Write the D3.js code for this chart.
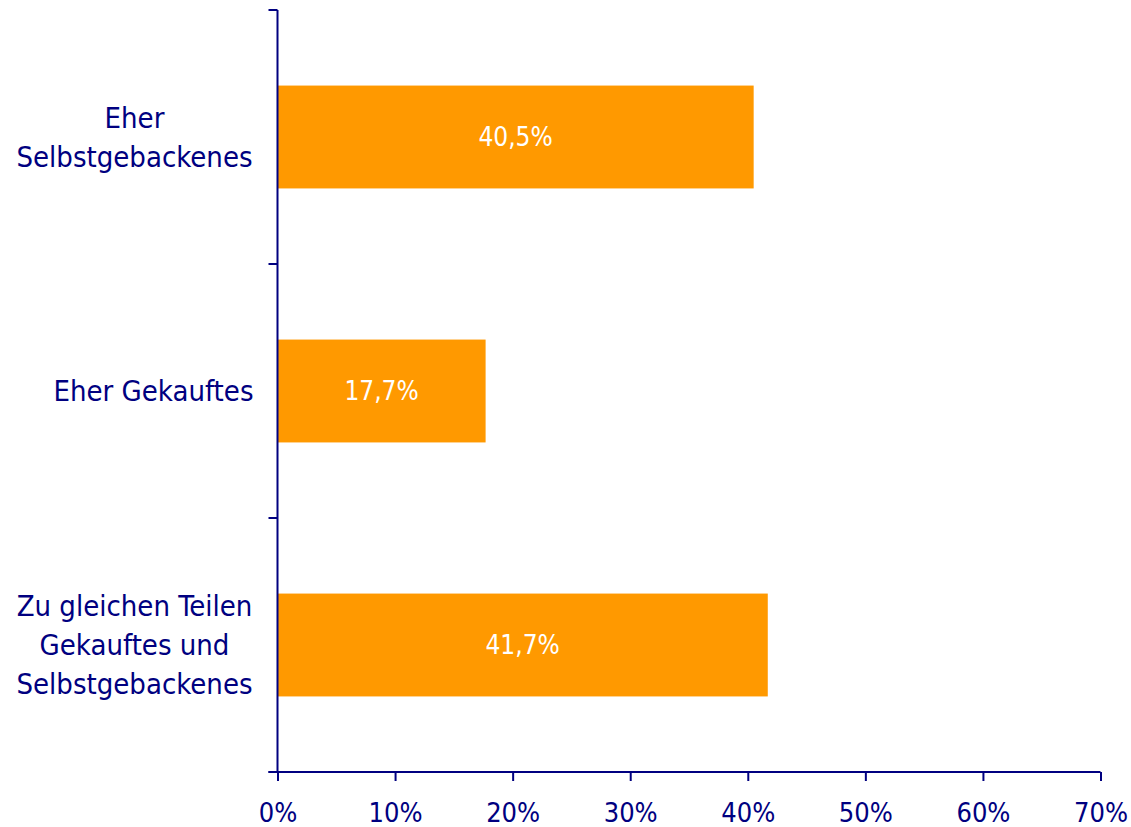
<!DOCTYPE html>
<html>
<head>
<meta charset="utf-8">
<script src="https://cdn.jsdelivr.net/npm/d3@7"></script>
<style>
  html, body { margin: 0; padding: 0; background: #ffffff; }
  svg { display: block; }
  text { font-family: "DejaVu Sans Condensed", "DejaVu Sans", sans-serif; }
</style>
</head>
<body>
<svg id="chart" width="1131" height="827"></svg>
<script>
const categories = [
  ["Eher", "Selbstgebackenes"],
  ["Eher Gekauftes"],
  ["Zu gleichen Teilen", "Gekauftes und", "Selbstgebackenes"]
];
const values = [40.5, 17.7, 41.7];
const valueLabels = ["40,5%", "17,7%", "41,7%"];
const xTicks = [0, 10, 20, 30, 40, 50, 60, 70];
const xTickLabels = ["0%", "10%", "20%", "30%", "40%", "50%", "60%", "70%"];

const navy = "#000080";
const orange = "#FF9900";
const margin = { left: 277.5, right: 1100.5, top: 10, bottom: 772 };

const svg = d3.select("#chart");
const keys = categories.map((c, i) => i);

const x = d3.scaleLinear().domain([0, 70]).range([margin.left, margin.right]);
const y = d3.scaleBand().domain(keys).range([margin.top, margin.bottom]).padding(0);
const barFrac = 0.405;

// bars
svg.append("g").selectAll("rect").data(keys).join("rect")
  .attr("x", x(0))
  .attr("y", i => y(i) + y.bandwidth() * (1 - barFrac) / 2)
  .attr("width", i => x(values[i]) - x(0))
  .attr("height", y.bandwidth() * barFrac)
  .attr("fill", orange);

// value labels
svg.append("g").selectAll("text").data(keys).join("text")
  .attr("x", i => (x(0) + x(values[i])) / 2)
  .attr("y", i => y(i) + y.bandwidth() / 2)
  .attr("dy", "0.35em")
  .attr("text-anchor", "middle")
  .attr("fill", "#ffffff")
  .attr("font-size", 26)
  .text(i => valueLabels[i]);

// y axis
const yAxis = svg.append("g");
yAxis.append("line")
  .attr("x1", x(0)).attr("x2", x(0))
  .attr("y1", margin.top).attr("y2", margin.bottom)
  .attr("stroke", navy).attr("stroke-width", 2);
const boundaries = keys.map(i => y(i)).concat([margin.bottom]);
yAxis.selectAll("line.tick").data(boundaries).join("line")
  .attr("class", "tick")
  .attr("x1", x(0) - 9).attr("x2", x(0))
  .attr("y1", d => d).attr("y2", d => d)
  .attr("stroke", navy).attr("stroke-width", 2);

// category labels
const lh = 39;
yAxis.selectAll("text").data(keys).join("text")
  .attr("text-anchor", i => categories[i].length === 1 ? "end" : "middle")
  .attr("fill", navy)
  .attr("font-size", 29)
  .each(function(i) {
    const lines = categories[i];
    const cy = y(i) + y.bandwidth() / 2;
    const t = d3.select(this);
    const lx = lines.length === 1 ? x(0) - 24 : 134.5;
    lines.forEach((ln, k) => {
      t.append("tspan")
        .attr("x", lx)
        .attr("y", cy + (k - (lines.length - 1) / 2) * lh)
        .attr("dy", "0.35em")
        .text(ln);
    });
  });

// x axis
const xAxis = svg.append("g").attr("transform", `translate(0,${margin.bottom})`)
  .call(d3.axisBottom(x).tickValues(xTicks).tickFormat((d, i) => xTickLabels[i]).tickSize(9).tickPadding(22));
xAxis.select(".domain").attr("stroke", navy).attr("stroke-width", 2).attr("d", `M${x(0) - 9},0H${x(70)}`);
xAxis.selectAll(".tick line").attr("stroke", navy).attr("stroke-width", 2);
xAxis.selectAll(".tick text").attr("fill", navy).attr("font-size", 27)
  .attr("font-family", "\"DejaVu Sans Condensed\", \"DejaVu Sans\", sans-serif");
</script>
</body>
</html>
